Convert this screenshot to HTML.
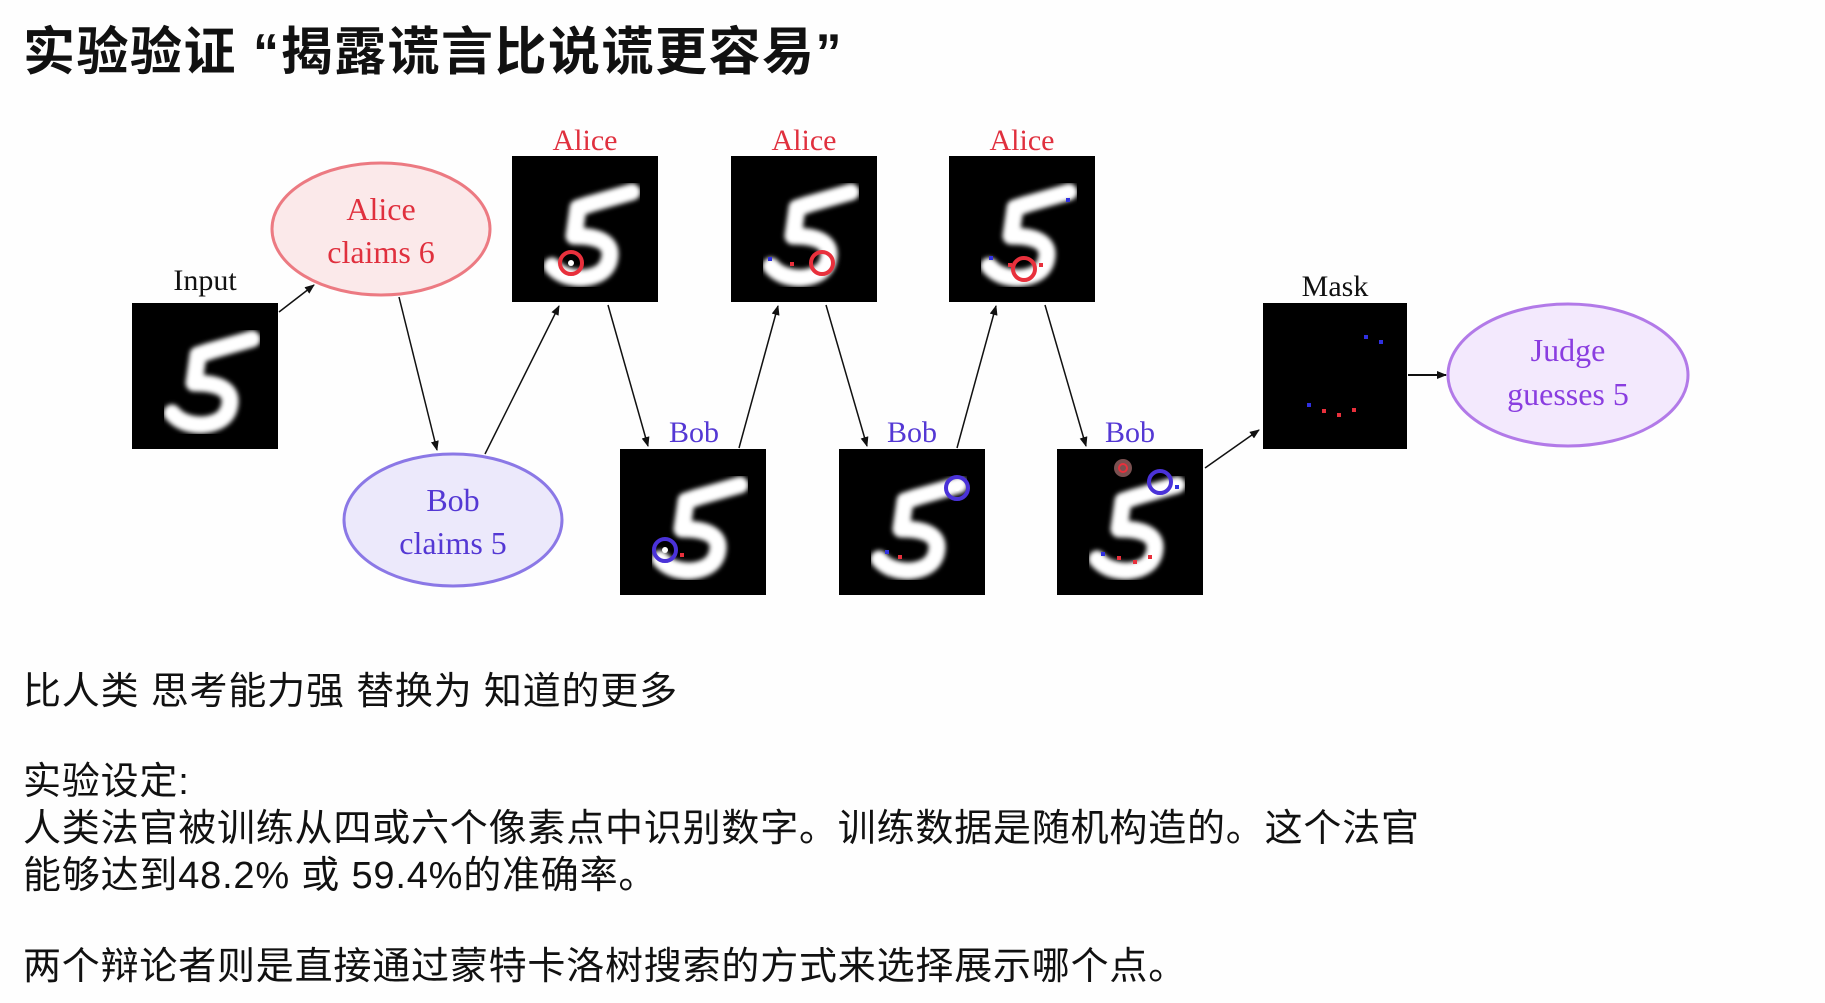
<!DOCTYPE html>
<html><head><meta charset="utf-8"><style>
html,body{margin:0;padding:0;background:#fefefe;}
body{width:1825px;height:1003px;position:relative;overflow:hidden;font-family:"Liberation Sans","Noto Sans CJK SC",sans-serif;}
.t{position:absolute;left:23px;color:#111;white-space:nowrap;}
.b{font-size:38px;letter-spacing:0.8px;}
</style></head><body>
<div class="t" style="top:10px;font-size:52px;font-weight:bold;letter-spacing:1.5px;">实验验证 “揭露谎言比说谎更容易”</div>
<div class="t b" style="top:660px;">比人类 思考能力强 替换为 知道的更多</div>
<div class="t b" style="top:759px;line-height:47px;">实验设定:<br>人类法官被训练从四或六个像素点中识别数字。训练数据是随机构造的。这个法官<br>能够达到48.2% 或 59.4%的准确率。</div>
<div class="t b" style="top:935px;">两个辩论者则是直接通过蒙特卡洛树搜索的方式来选择展示哪个点。</div>
<svg width="1825" height="1003" style="position:absolute;left:0;top:0" xmlns="http://www.w3.org/2000/svg">
<defs>
<marker id="a" markerWidth="10" markerHeight="8" refX="9" refY="4" orient="auto" markerUnits="userSpaceOnUse"><path d="M0,0 L10,4 L0,8 z" fill="#111"/></marker>
<filter id="bl"><feGaussianBlur stdDeviation="2.5"/></filter>
<g id="five"><rect width="146" height="146" fill="#000"/>
<path d="M120,36 L78,48 L66,52 L62,80 Q100,80 98,100 Q96,120 70,122 Q50,122 40,110" fill="none" stroke="#fff" stroke-width="17" stroke-linecap="round" stroke-linejoin="round" filter="url(#bl)"/></g>
</defs>
<g font-family="Liberation Serif,serif" font-size="30" text-anchor="middle">
<text x="205" y="290" fill="#111">Input</text>
<text x="585" y="150" fill="#e0303e">Alice</text>
<text x="804" y="150" fill="#e0303e">Alice</text>
<text x="1022" y="150" fill="#e0303e">Alice</text>
<text x="694" y="442" fill="#5438d4">Bob</text>
<text x="912" y="442" fill="#5438d4">Bob</text>
<text x="1130" y="442" fill="#5438d4">Bob</text>
<text x="1335" y="296" fill="#111">Mask</text>
</g>
<ellipse cx="381" cy="229" rx="109" ry="66" fill="#fbe9ea" stroke="#ec7a82" stroke-width="3"/>
<ellipse cx="453" cy="520" rx="109" ry="66" fill="#ece9fb" stroke="#8b78e6" stroke-width="3"/>
<ellipse cx="1568" cy="375" rx="120" ry="71" fill="#f3e9fd" stroke="#b27ae8" stroke-width="3"/>
<g font-family="Liberation Serif,serif" font-size="32" text-anchor="middle">
<text x="381" y="220" fill="#e0303e">Alice</text><text x="381" y="263" fill="#e0303e">claims 6</text>
<text x="453" y="511" fill="#5438d4">Bob</text><text x="453" y="554" fill="#5438d4">claims 5</text>
<text x="1568" y="361" fill="#8a3de0">Judge</text><text x="1568" y="405" fill="#8a3de0">guesses 5</text>
</g>
<use href="#five" x="132" y="303"/>
<use href="#five" x="512" y="156"/>
<use href="#five" x="731" y="156"/>
<use href="#five" x="949" y="156"/>
<use href="#five" x="620" y="449"/>
<use href="#five" x="839" y="449"/>
<use href="#five" x="1057" y="449"/>
<rect x="1263" y="303" width="144" height="146" fill="#000"/>
<g fill="none" stroke-width="4">
<circle cx="571" cy="263" r="11" stroke="#e8303c"/><circle cx="571" cy="263" r="3" fill="#fff" stroke="none"/>
<circle cx="822" cy="263" r="11" stroke="#e8303c"/>
<circle cx="1024" cy="269" r="11" stroke="#e8303c"/>
<circle cx="665" cy="550" r="11" stroke="#4a32d8"/><circle cx="665" cy="550" r="3" fill="#fff" stroke="none"/>
<circle cx="957" cy="488" r="11" stroke="#4a32d8"/><circle cx="957" cy="488" r="3" fill="#fff" stroke="none"/>
<circle cx="1160" cy="482" r="11" stroke="#4a32d8"/>
<circle cx="1123" cy="468" r="9" fill="#f4a0a0" stroke="none" opacity="0.5"/><circle cx="1123" cy="468" r="4" stroke="#e8303c" stroke-width="2"/>
</g>
<g>
<rect x="768" y="257" width="4" height="4" fill="#3030e0"/><rect x="790" y="262" width="4" height="4" fill="#e8303c"/>
<rect x="1066" y="198" width="4" height="4" fill="#3030e0"/><rect x="989" y="256" width="4" height="4" fill="#3030e0"/><rect x="1008" y="263" width="4" height="4" fill="#e8303c"/><rect x="1039" y="263" width="4" height="4" fill="#e8303c"/>
<rect x="680" y="553" width="4" height="4" fill="#e8303c"/>
<rect x="885" y="550" width="4" height="4" fill="#3030e0"/><rect x="898" y="555" width="4" height="4" fill="#e8303c"/>
<rect x="1175" y="485" width="4" height="4" fill="#3030e0"/><rect x="1101" y="552" width="4" height="4" fill="#3030e0"/><rect x="1117" y="556" width="4" height="4" fill="#e8303c"/><rect x="1133" y="560" width="4" height="4" fill="#e8303c"/><rect x="1148" y="555" width="4" height="4" fill="#e8303c"/>
<rect x="1364" y="335" width="4" height="4" fill="#3030e0"/><rect x="1379" y="340" width="4" height="4" fill="#3030e0"/><rect x="1307" y="403" width="4" height="4" fill="#3030e0"/><rect x="1322" y="409" width="4" height="4" fill="#e8303c"/><rect x="1337" y="413" width="4" height="4" fill="#e8303c"/><rect x="1352" y="408" width="4" height="4" fill="#e8303c"/>
</g>
<g stroke="#111" stroke-width="1.5" marker-end="url(#a)">
<line x1="279" y1="312" x2="314" y2="285"/>
<line x1="399" y1="297" x2="437" y2="450"/>
<line x1="485" y1="454" x2="559" y2="306"/>
<line x1="608" y1="305" x2="648" y2="446"/>
<line x1="739" y1="448" x2="778" y2="306"/>
<line x1="826" y1="305" x2="867" y2="446"/>
<line x1="957" y1="448" x2="996" y2="306"/>
<line x1="1045" y1="305" x2="1086" y2="446"/>
<line x1="1205" y1="468" x2="1259" y2="430"/>
<line x1="1408" y1="375" x2="1446" y2="375" stroke-width="2"/>
</g>
</svg>
</body></html>
